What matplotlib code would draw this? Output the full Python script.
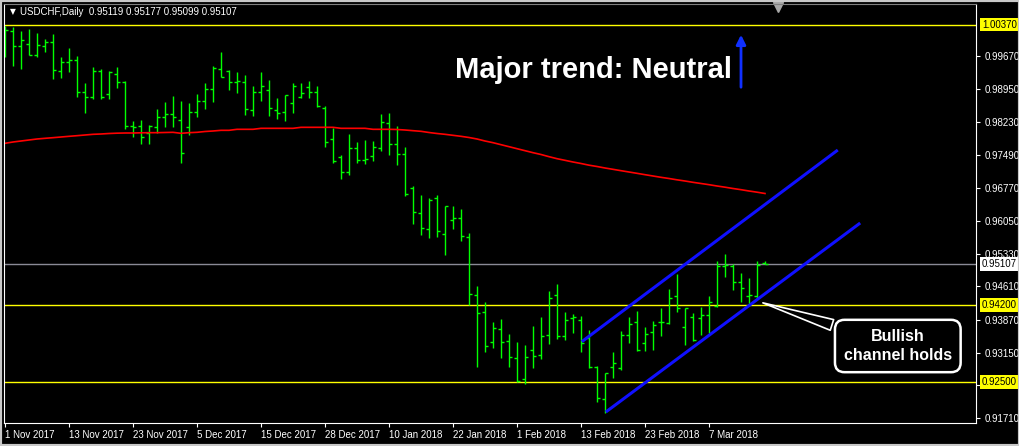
import numpy as np
import pandas as pd
import matplotlib
matplotlib.use('Agg')
import matplotlib.pyplot as plt
import matplotlib.transforms as mtransforms
from matplotlib.patches import Rectangle

# ---------- Data: USDCHF daily bars ----------
opens = [1.00323, 1.00221, 0.99898, 0.99935, 0.99693, 0.99898, 0.99979, 0.99341, 0.99539, 0.99583,
         0.98886, 0.98769, 0.99341, 0.98835, 0.99282, 0.99106, 0.98131, 0.98131, 0.97977, 0.98116,
         0.98343, 0.98402, 0.98270, 0.98109, 0.98446, 0.98681, 0.98945, 0.99385, 0.99341, 0.99099,
         0.99099, 0.98483, 0.98879, 0.98923, 0.98483, 0.98439, 0.98637, 0.98783, 0.98989, 0.98879,
         0.98527, 0.97845, 0.97449, 0.97119, 0.97647, 0.97383, 0.97471, 0.97647, 0.98197, 0.97735,
         0.97522, 0.96774, 0.96217, 0.95865, 0.96547, 0.95755, 0.96063, 0.96107, 0.95689, 0.94413,
         0.94039, 0.93379, 0.93665, 0.93401, 0.93027, 0.92565, 0.93203, 0.93093, 0.93533, 0.94413,
         0.93511, 0.93907, 0.93863, 0.93474, 0.92829, 0.92125, 0.92829, 0.92807, 0.93547, 0.93833,
         0.93371, 0.93599, 0.93819, 0.93811, 0.94405, 0.93723, 0.93929, 0.93921, 0.93987, 0.94185,
         0.95065, 0.95065, 0.94713, 0.94405, 0.94405, 0.95119]
highs = [1.00338, 1.00323, 1.00228, 1.00272, 1.00184, 1.00052, 1.00162, 0.99649, 0.99854, 0.99678,
         0.99084, 0.99429, 0.99385, 0.99341, 0.99429, 0.99121, 0.98248, 0.98270, 0.98153, 0.98519,
         0.98666, 0.98798, 0.98695, 0.98651, 0.98842, 0.99084, 0.99458, 0.99766, 0.99370, 0.99326,
         0.99260, 0.99018, 0.99326, 0.99150, 0.98754, 0.98820, 0.99084, 0.99084, 0.99128, 0.99018,
         0.98578, 0.98087, 0.97493, 0.97955, 0.97779, 0.97823, 0.97801, 0.98402, 0.98424, 0.98138,
         0.97669, 0.96811, 0.96613, 0.96547, 0.96613, 0.96371, 0.96371, 0.96305, 0.95777, 0.94611,
         0.94259, 0.93819, 0.93892, 0.93555, 0.93379, 0.93313, 0.93731, 0.93936, 0.94508, 0.94662,
         0.94046, 0.93995, 0.93951, 0.93650, 0.92865, 0.92711, 0.93166, 0.93635, 0.93943, 0.94075,
         0.93716, 0.93855, 0.94134, 0.94559, 0.94882, 0.94141, 0.94031, 0.94163, 0.94398, 0.95175,
         0.95315, 0.95102, 0.94904, 0.94787, 0.95175, 0.95177]
lows = [0.99663, 0.99465, 0.99399, 0.99693, 0.99663, 0.99773, 0.99179, 0.99201, 0.99326, 0.98783,
        0.98431, 0.98739, 0.98725, 0.98739, 0.98967, 0.98079, 0.97903, 0.97742, 0.97742, 0.97977,
        0.98123, 0.98123, 0.97317, 0.97940, 0.98343, 0.98519, 0.98673, 0.99209, 0.98937, 0.98871,
        0.98387, 0.98365, 0.98695, 0.98365, 0.98299, 0.98255, 0.98431, 0.98761, 0.98761, 0.98563,
        0.97683, 0.97317, 0.96965, 0.97060, 0.97331, 0.97309, 0.97361, 0.97581, 0.97507, 0.97280,
        0.96605, 0.95989, 0.95747, 0.95681, 0.95703, 0.95307, 0.95879, 0.95615, 0.94207, 0.92843,
        0.93173, 0.93261, 0.93041, 0.92843, 0.92513, 0.92455, 0.92821, 0.93019, 0.93349, 0.93459,
        0.93437, 0.93591, 0.93173, 0.92814, 0.92073, 0.91831, 0.92601, 0.92777, 0.93371, 0.93195,
        0.93195, 0.93217, 0.93525, 0.93789, 0.94053, 0.93327, 0.93415, 0.93547, 0.93591, 0.94163,
        0.94823, 0.94537, 0.94273, 0.94229, 0.94347, 0.95099]
closes = [1.00243, 0.99898, 1.00023, 0.99693, 0.99913, 0.99979, 0.99363, 0.99546, 0.99583, 0.98886,
          0.98769, 0.99341, 0.98769, 0.99319, 0.99106, 0.98131, 0.98116, 0.97889, 0.98138, 0.98329,
          0.98402, 0.98343, 0.97537, 0.98439, 0.98695, 0.98945, 0.99407, 0.99209, 0.99099, 0.99121,
          0.98505, 0.98879, 0.99011, 0.98527, 0.98424, 0.98813, 0.99011, 0.98857, 0.98879, 0.98571,
          0.97779, 0.97361, 0.97119, 0.97647, 0.97383, 0.97405, 0.97669, 0.98219, 0.97735, 0.97522,
          0.96649, 0.96239, 0.95887, 0.96510, 0.95821, 0.96371, 0.96107, 0.95711, 0.94435, 0.94017,
          0.93291, 0.93701, 0.93379, 0.93049, 0.92535, 0.93049, 0.93085, 0.93511, 0.94347, 0.93511,
          0.93863, 0.93929, 0.93371, 0.92829, 0.92147, 0.92711, 0.92931, 0.93547, 0.93789, 0.93217,
          0.93569, 0.93767, 0.93826, 0.94361, 0.94141, 0.94127, 0.93437, 0.93987, 0.94273, 0.95065,
          0.95080, 0.94713, 0.94581, 0.94427, 0.95080, 0.95107]
# red moving average, one value per bar
ma = [0.97757, 0.97786, 0.97808, 0.97830, 0.97852, 0.97867, 0.97881, 0.97896, 0.97911, 0.97925,
      0.97940, 0.97955, 0.97962, 0.97973, 0.97980, 0.97984, 0.97984, 0.97988, 0.97991, 0.97991,
      0.97995, 0.97999, 0.97977, 0.97991, 0.97999, 0.98017, 0.98028, 0.98043, 0.98043, 0.98065,
      0.98065, 0.98065, 0.98087, 0.98087, 0.98087, 0.98087, 0.98087, 0.98109, 0.98109, 0.98109,
      0.98109, 0.98109, 0.98087, 0.98087, 0.98087, 0.98087, 0.98065, 0.98065, 0.98065, 0.98061,
      0.98050, 0.98035, 0.98021, 0.97995, 0.97973, 0.97955, 0.97933, 0.97911, 0.97885, 0.97852,
      0.97808, 0.97771, 0.97727, 0.97683, 0.97639, 0.97595, 0.97551, 0.97511, 0.97463, 0.97419,
      0.97383, 0.97346, 0.97313, 0.97276, 0.97247, 0.97214, 0.97185, 0.97155, 0.97126, 0.97097,
      0.97067, 0.97038, 0.97009, 0.96983, 0.96954, 0.96928, 0.96899, 0.96873, 0.96847, 0.96818,
      0.96792, 0.96763, 0.96737, 0.96708, 0.96682, 0.96653]

levels = [1.00370, 0.94200, 0.92500]
last_price = 0.95107
right_ticks = [0.99670, 0.98950, 0.98230, 0.97490, 0.96770, 0.96050, 0.95330,
               0.94610, 0.93870, 0.93150, 0.92430, 0.91710]
# channel trend lines: (bar index, price) end points
upper_channel = [(72.1, 0.93393), (104.1, 0.97610)]
lower_channel = [(75.1, 0.91846), (106.9, 0.96004)]

# trading days (no bars on 25 Dec and 1 Jan)
dates = pd.bdate_range('2017-11-01', '2018-03-31')
dates = dates[~dates.isin(pd.to_datetime(['2017-12-25', '2018-01-01']))][:len(opens)]
tick_idx = list(range(0, len(opens), 8))
tick_labels = [f"{dates[i].day} {dates[i].strftime('%b %Y')}" for i in tick_idx]

# ---------- Plot ----------
plt.rcParams['font.family'] = ['Liberation Sans', 'DejaVu Sans']
fig = plt.figure(figsize=(10.2, 4.46), dpi=100, facecolor='black')
ax = fig.add_axes([4/1020, 23/446, 972/1020, 419/446], facecolor='black')

x = np.arange(len(opens))
green = '#00ff00'
ax.vlines(x, lows, highs, color=green, lw=1.0)
ax.hlines(opens, x - 0.4, x, color=green, lw=1.0)
ax.hlines(closes, x, x + 0.4, color=green, lw=1.0)

ax.plot(x, ma, color='#ff0000', lw=1.2)

for lv in levels:
    ax.axhline(lv, color='#ffff00', lw=1.0, zorder=1)
ax.axhline(last_price, color='#8a8a96', lw=1.0, zorder=1)

for seg in (upper_channel, lower_channel):
    xs, ys = zip(*seg)
    ax.plot(xs, ys, color='#1010ff', lw=2.2, solid_capstyle='butt')

ax.set_xlim(-0.125, 121.375)
ax.set_ylim(0.91604, 1.00822)

# axes styling
for side in ('left', 'bottom', 'right'):
    ax.spines[side].set_color('white')
ax.spines['top'].set_color('#808080')
ax.yaxis.tick_right()
ax.set_yticks(right_ticks)
# the 0.92430 label sits behind the 0.92500 level box in the chart
ax.set_yticklabels(['' if abs(v - 0.92430) < 1e-6 else f"{v:.5f}" for v in right_ticks])
ax.set_xticks(tick_idx)
ax.set_xticklabels(tick_labels, ha='left')
ax.tick_params(axis='both', colors='white', labelsize=7, length=3, width=0.8, direction='out')
ax.tick_params(axis='y', pad=3)
ax.tick_params(axis='x', pad=2)

# highlighted price labels on the right axis
trans = mtransforms.blended_transform_factory(ax.transAxes, ax.transData)
for lv in levels:
    ax.text(1.006, lv, f"{lv:.5f}", transform=trans, va='center', ha='left', fontsize=7,
            color='black', zorder=10, clip_on=False,
            bbox=dict(boxstyle='square,pad=0.2', fc='#ffff00', ec='none'))
ax.text(1.006, last_price, f"{last_price:.5f}", transform=trans, va='center', ha='left',
        fontsize=7, color='black', zorder=10, clip_on=False,
        bbox=dict(boxstyle='square,pad=0.2', fc='white', ec='none'))

# header
ax.text(0.006, 0.981, '\u25bc', transform=ax.transAxes, color='white', fontsize=5.5,
        va='center', ha='left', family=['DejaVu Sans'])
ax.text(0.0165, 0.981, 'USDCHF,Daily  0.95119 0.95177 0.95099 0.95107', transform=ax.transAxes,
        color='white', fontsize=7, va='center', ha='left')
ax.plot([0.796], [0.992], marker='v', color='#a8a8a8', ms=7, transform=ax.transAxes, clip_on=False)

# annotations
ax.text(56.25, 0.99370, 'Major trend: Neutral', color='white', fontsize=21,
        fontweight='bold', va='center', ha='left')
ax.annotate('', xy=(92, 1.00206), xytext=(92, 0.98930),
            arrowprops=dict(arrowstyle='-|>', color='#1030ff', lw=2, mutation_scale=14))
ax.annotate('Bullish\nchannel holds', xy=(94.4, 0.94266), xytext=(111.6, 0.93298),
            ha='center', va='center', color='white', fontsize=11.5, fontweight='bold',
            linespacing=1.4,
            bbox=dict(boxstyle='round,pad=0.55,rounding_size=0.6', fc='black', ec='white', lw=1.8),
            arrowprops=dict(arrowstyle='wedge,tail_width=0.7', fc='black', ec='white', lw=1.2))

fig.patches.append(Rectangle((0, 0), 1, 1, transform=fig.transFigure, fill=False,
                             ec='#c8c8c8', lw=3))

fig.savefig('out.png', dpi=100, facecolor='black')
